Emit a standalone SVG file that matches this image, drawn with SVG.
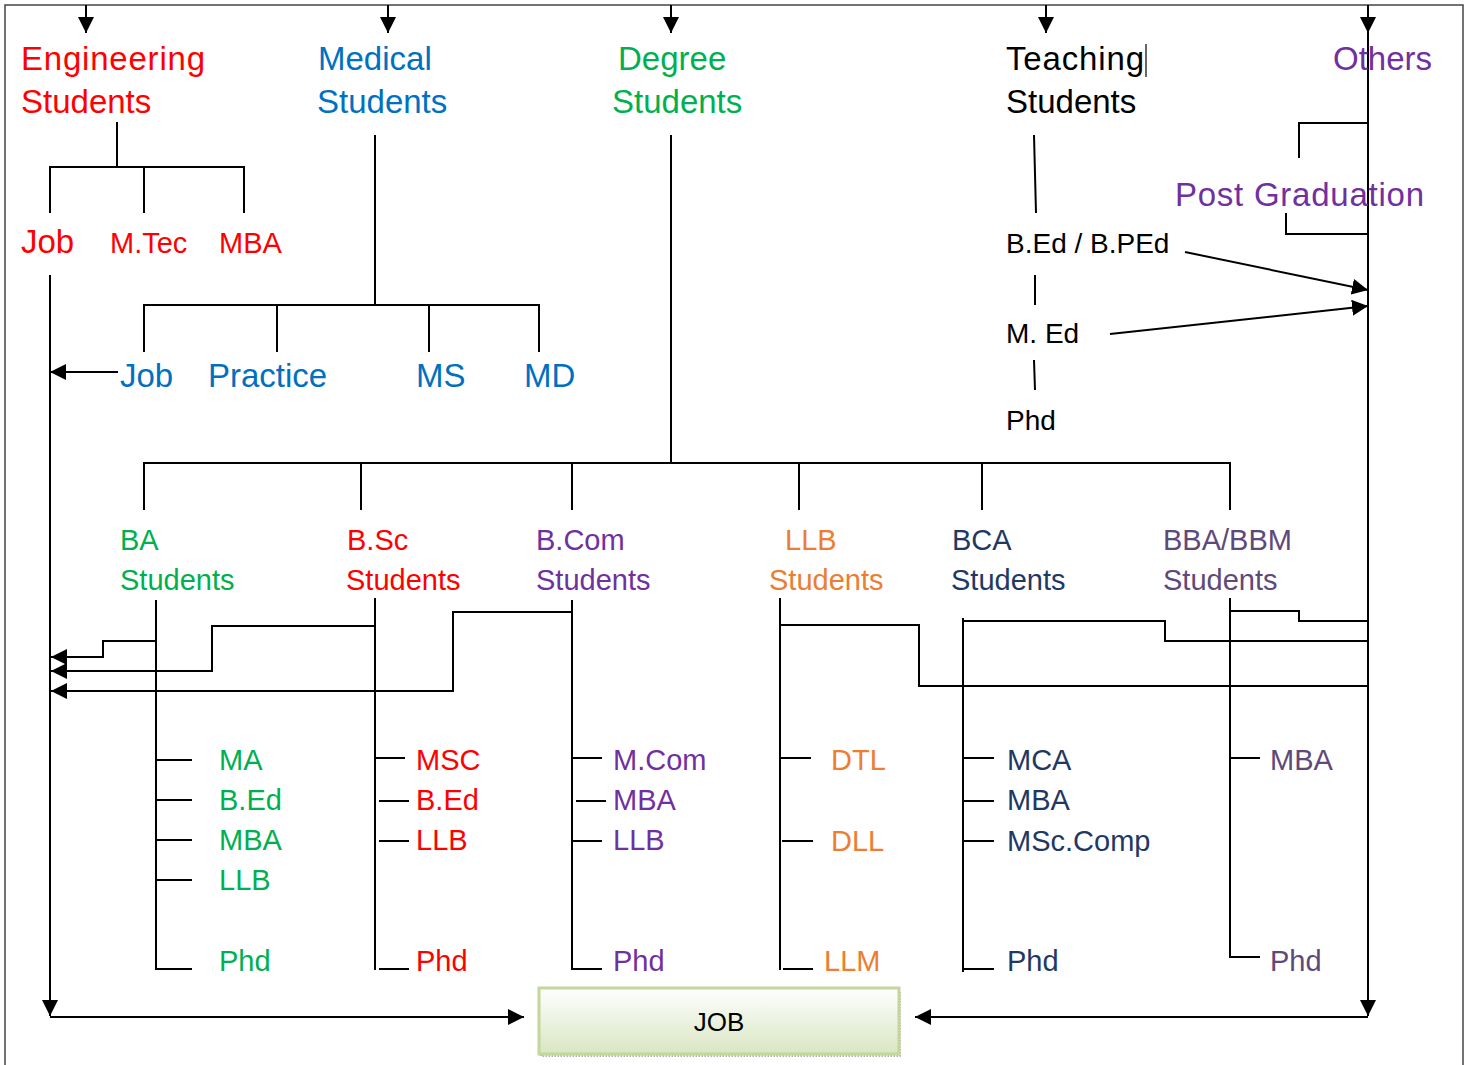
<svg xmlns="http://www.w3.org/2000/svg" width="1471" height="1065" viewBox="0 0 1471 1065">
<style>
text{font-family:"Liberation Sans",Arial,sans-serif;}
.t1{font-size:33px;}
.t2{font-size:29px;}
.t3{font-size:28px;}
.red{fill:#FF0000;}
.blue{fill:#0070C0;}
.green{fill:#00B050;}
.purple{fill:#7030A0;}
.orange{fill:#ED7D31;}
.navy{fill:#1F3864;}
.bba{fill:#5F497A;}
.blk{fill:#000;}
.ln{stroke:#000;stroke-width:2;fill:none;}
.frame{stroke:#444;stroke-width:1.5;fill:none;}
</style>
<defs>
<marker id="ahL" viewBox="0 0 10 10" refX="10" refY="5" markerWidth="16" markerHeight="16" markerUnits="userSpaceOnUse" orient="auto"><path d="M0,0 L10,5 L0,10 z" fill="#000"/></marker>
<linearGradient id="jobg" x1="0" y1="0" x2="0" y2="1"><stop offset="0" stop-color="#FFFFFF"/><stop offset="1" stop-color="#D9E6C2"/></linearGradient>
</defs>
<rect width="1471" height="1065" fill="#fff"/>
<path class="frame" d="M5,1065 V5 H1463 V1065"/>

<g id="connectors">
  <line class="ln" x1="86" y1="5" x2="86" y2="33" marker-end="url(#ahL)"/>
  <line class="ln" x1="388" y1="5" x2="388" y2="33" marker-end="url(#ahL)"/>
  <line class="ln" x1="671" y1="5" x2="671" y2="33" marker-end="url(#ahL)"/>
  <line class="ln" x1="1046" y1="5" x2="1046" y2="33" marker-end="url(#ahL)"/>
  <line class="ln" x1="1368" y1="5" x2="1368" y2="33" marker-end="url(#ahL)"/>
  <line class="ln" x1="1368" y1="30" x2="1368" y2="1016" marker-end="url(#ahL)"/>
  <path class="ln" d="M117,122 V167 M50,213 V167 H244 V213 M144,167 V213"/>
  <line class="ln" x1="50" y1="275" x2="50" y2="1016" marker-end="url(#ahL)"/>
  <line class="ln" x1="50" y1="1017" x2="524" y2="1017" marker-end="url(#ahL)"/>
  <line class="ln" x1="1368" y1="1017" x2="915" y2="1017" marker-end="url(#ahL)"/>
  <path class="ln" d="M375,135 V305 M144,352 V305 H539 V352 M277,305 V352 M429,305 V352"/>
  <line class="ln" x1="118" y1="372" x2="50" y2="372" marker-end="url(#ahL)"/>
  <path class="ln" d="M671,135 V463 M144,510 V463 H1230 V510 M361,463 V510 M572,463 V510 M799,463 V510 M982,463 V510"/>
  <path class="ln" d="M1034,135 L1036,213 M1035,275 V305 M1034,360 L1035,390"/>
  <line class="ln" x1="1185" y1="252" x2="1368" y2="290" marker-end="url(#ahL)"/>
  <line class="ln" x1="1110" y1="334" x2="1368" y2="306" marker-end="url(#ahL)"/>
  <path class="ln" d="M1368,123 H1299 V158 M1286,213 V234 H1368"/>
  <path class="ln" d="M156,600 V969 H192 M156,760 H192 M156,800 H192 M156,840 H192 M156,880 H192"/>
  <path class="ln" d="M375,598 V970 M375,758 H405 M379,801 H409 M379,841 H409 M379,969 H409"/>
  <path class="ln" d="M572,600 V969 H602 M572,758 H602 M576,801 H606 M572,841 H602"/>
  <path class="ln" d="M780,598 V970 M780,758 H811 M782,841 H813 M783,969 H813"/>
  <path class="ln" d="M963,618 V972 M963,758 H994 M962,801 H994 M963,841 H994 M962,969 H994"/>
  <path class="ln" d="M1230,598 V957 H1260 M1230,758 H1260"/>
  <path class="ln" d="M156,641 H103 V657 H51" marker-end="url(#ahL)"/>
  <path class="ln" d="M375,626 H212 V671 H51" marker-end="url(#ahL)"/>
  <path class="ln" d="M572,612 H453 V691 H51" marker-end="url(#ahL)"/>
  <path class="ln" d="M1230,611 H1299 V621 H1368"/>
  <path class="ln" d="M963,621 H1165 V641 H1368"/>
  <path class="ln" d="M780,625 H919 V686 H1368"/>
</g>

<g id="engineering">
  <text class="t1 red" x="21" y="70" textLength="184">Engineering</text>
  <text class="t1 red" x="21" y="113">Students</text>
</g>
<g id="eng-job"><text class="t1 red" x="21" y="253">Job</text></g>
<g id="eng-mtec"><text class="t2 red" x="110" y="253">M.Tec</text></g>
<g id="eng-mba"><text class="t2 red" x="219" y="253">MBA</text></g>

<g id="medical">
  <text class="t1 blue" x="318" y="70">Medical</text>
  <text class="t1 blue" x="317" y="113">Students</text>
</g>
<g id="med-job"><text class="t1 blue" x="120" y="387">Job</text></g>
<g id="med-practice"><text class="t1 blue" x="208" y="387">Practice</text></g>
<g id="med-ms"><text class="t1 blue" x="416" y="387">MS</text></g>
<g id="med-md"><text class="t1 blue" x="524" y="387">MD</text></g>

<g id="degree">
  <text class="t1 green" x="618" y="70">Degree</text>
  <text class="t1 green" x="612" y="113">Students</text>
</g>

<g id="teaching">
  <text class="t1 blk" x="1006" y="70" textLength="138">Teaching</text>
  <line x1="1146" y1="44" x2="1146" y2="77" stroke="#000" stroke-width="1.2"/>
  <text class="t1 blk" x="1006" y="113">Students</text>
</g>
<g id="t-bed"><text class="t3 blk" x="1006" y="253">B.Ed / B.PEd</text></g>
<g id="t-med"><text class="t3 blk" x="1006" y="343">M. Ed</text></g>
<g id="t-phd"><text class="t3 blk" x="1006" y="430">Phd</text></g>

<g id="others"><text class="t1 purple" x="1333" y="70">Others</text></g>
<g id="postgrad"><text class="t1 purple" x="1175" y="206" textLength="249">Post Graduation</text></g>

<g id="ba">
  <text class="t2 green" x="120" y="550">BA</text>
  <text class="t2 green" x="120" y="590">Students</text>
  <text class="t2 green" x="219" y="770">MA</text>
  <text class="t2 green" x="219" y="810">B.Ed</text>
  <text class="t2 green" x="219" y="850">MBA</text>
  <text class="t2 green" x="219" y="890">LLB</text>
  <text class="t2 green" x="219" y="971">Phd</text>
</g>
<g id="bsc">
  <text class="t2 red" x="347" y="550">B.Sc</text>
  <text class="t2 red" x="346" y="590">Students</text>
  <text class="t2 red" x="416" y="770">MSC</text>
  <text class="t2 red" x="416" y="810">B.Ed</text>
  <text class="t2 red" x="416" y="850">LLB</text>
  <text class="t2 red" x="416" y="971">Phd</text>
</g>
<g id="bcom">
  <text class="t2 purple" x="536" y="550">B.Com</text>
  <text class="t2 purple" x="536" y="590">Students</text>
  <text class="t2 purple" x="613" y="770">M.Com</text>
  <text class="t2 purple" x="613" y="810">MBA</text>
  <text class="t2 purple" x="613" y="850">LLB</text>
  <text class="t2 purple" x="613" y="971">Phd</text>
</g>
<g id="llb">
  <text class="t2 orange" x="785" y="550">LLB</text>
  <text class="t2 orange" x="769" y="590">Students</text>
  <text class="t2 orange" x="831" y="770">DTL</text>
  <text class="t2 orange" x="831" y="851">DLL</text>
  <text class="t2 orange" x="824" y="971">LLM</text>
</g>
<g id="bca">
  <text class="t2 navy" x="952" y="550">BCA</text>
  <text class="t2 navy" x="951" y="590">Students</text>
  <text class="t2 navy" x="1007" y="770">MCA</text>
  <text class="t2 navy" x="1007" y="810">MBA</text>
  <text class="t2 navy" x="1007" y="851">MSc.Comp</text>
  <text class="t2 navy" x="1007" y="971">Phd</text>
</g>
<g id="bba">
  <text class="t2 bba" x="1163" y="550">BBA/BBM</text>
  <text class="t2 bba" x="1163" y="590">Students</text>
  <text class="t2 bba" x="1270" y="770">MBA</text>
  <text class="t2 bba" x="1270" y="971">Phd</text>
</g>

<g id="job">
  <rect x="541" y="991" width="359" height="65" fill="none" stroke="#999" stroke-width="1.5" stroke-dasharray="1.5,1.5"/>
  <rect x="539" y="988" width="360" height="66" fill="url(#jobg)" stroke="#C3D69B" stroke-width="3"/>
  <text x="719" y="1031" font-size="26" text-anchor="middle" fill="#000">JOB</text>
</g>
</svg>
